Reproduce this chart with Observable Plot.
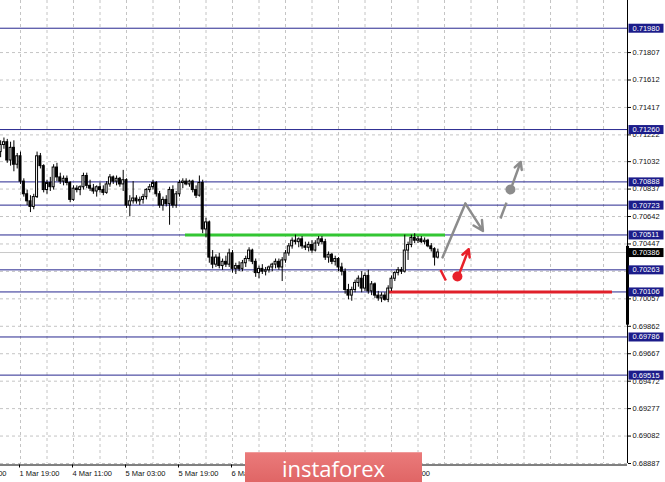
<!DOCTYPE html>
<html><head><meta charset="utf-8">
<script src="https://cdn.jsdelivr.net/npm/d3@7"></script>
<script src="https://cdn.jsdelivr.net/npm/@observablehq/plot@0.6"></script>
<style>
body{margin:0;background:#fff;}
#wrap{position:relative;width:665px;height:482px;overflow:hidden;background:#fff;}
#wrap svg{position:absolute;left:0;top:0;}
#banner{position:absolute;left:245px;top:452px;width:177px;height:34px;background:linear-gradient(#ea7a7a,#de6262);border-top:1px solid #f09a9a;color:#fff;font:22px "Open Sans",sans-serif;text-align:center;line-height:30px;z-index:2;}
</style></head><body><div id="wrap"><div id="banner">instaforex</div></div>
<script>
// ---- data (H1 candles) ----
const opens = [
0.7110,0.7115,0.7117,0.7104,0.7113,0.7101,0.7107,0.7089,0.7080,0.7075,
0.7071,0.7078,0.7107,0.7100,0.7083,0.7088,0.7085,0.7099,0.7092,0.7089,
0.7091,0.7088,0.7076,0.7084,0.7083,0.7085,0.7093,0.7086,0.7084,0.7082,
0.7085,0.7083,0.7081,0.7087,0.7092,0.7089,0.7091,0.7087,0.7090,0.7072,
0.7075,0.7077,0.7075,0.7076,0.7078,0.7083,0.7085,0.7088,0.7080,0.7072,
0.7076,0.7073,0.7083,0.7072,0.7080,0.7088,0.7089,0.7087,0.7089,0.7083,
0.7079,0.7088,0.7055,0.7060,0.7035,0.7030,0.7035,0.7029,0.7032,0.7030,
0.7038,0.7027,0.7029,0.7027,0.7031,0.7034,0.7040,0.7032,0.7024,0.7027,
0.7025,0.7026,0.7028,0.7030,0.7032,0.7028,0.7033,0.7038,0.7043,0.7047,
0.7046,0.7048,0.7043,0.7042,0.7044,0.7040,0.7045,0.7048,0.7046,0.7035,
0.7037,0.7032,0.7034,0.7028,0.7025,0.7012,0.7008,0.7012,0.7017,0.7020,
0.7013,0.7022,0.7011,0.7016,0.7008,0.7006,0.7008,0.7005,0.7013,0.7020,
0.7024,0.7026,0.7025,0.7040,0.7044,0.7049,0.7047,0.7048,0.7046,0.7047,
0.7043,0.7041,0.7035];
const highs = [
0.7118,0.7120,0.7119,0.7117,0.7118,0.7109,0.7110,0.7091,0.7083,0.7079,
0.7080,0.7110,0.7109,0.7101,0.7090,0.7092,0.7101,0.7102,0.7095,0.7093,
0.7093,0.7089,0.7086,0.7086,0.7086,0.7095,0.7095,0.7090,0.7087,0.7086,
0.7088,0.7086,0.7089,0.7094,0.7093,0.7093,0.7092,0.7097,0.7091,0.7079,
0.7089,0.7079,0.7078,0.7080,0.7084,0.7087,0.7090,0.7089,0.7082,0.7078,
0.7079,0.7085,0.7086,0.7082,0.7090,0.7091,0.7091,0.7090,0.7090,0.7086,
0.7093,0.7090,0.7063,0.7061,0.7040,0.7037,0.7038,0.7034,0.7036,0.7041,
0.7040,0.7031,0.7032,0.7033,0.7036,0.7042,0.7041,0.7034,0.7029,0.7030,
0.7028,0.7029,0.7031,0.7034,0.7034,0.7035,0.7040,0.7045,0.7049,0.7051,
0.7049,0.7050,0.7046,0.7046,0.7047,0.7047,0.7050,0.7050,0.7048,0.7039,
0.7038,0.7036,0.7035,0.7031,0.7027,0.7016,0.7014,0.7019,0.7022,0.7025,
0.7024,0.7026,0.7018,0.7017,0.7011,0.7010,0.7010,0.7015,0.7022,0.7025,
0.7028,0.7028,0.7051,0.7046,0.7051,0.7052,0.7050,0.7050,0.7049,0.7048,
0.7045,0.7042,0.7041];
const lows = [
0.7106,0.7112,0.7102,0.7100,0.7096,0.7098,0.7087,0.7078,0.7072,0.7067,
0.7069,0.7077,0.7098,0.7081,0.7080,0.7082,0.7083,0.7089,0.7087,0.7086,
0.7086,0.7074,0.7075,0.7081,0.7079,0.7083,0.7084,0.7082,0.7080,0.7078,
0.7081,0.7079,0.7080,0.7085,0.7087,0.7086,0.7085,0.7082,0.7070,0.7064,
0.7073,0.7073,0.7072,0.7073,0.7076,0.7081,0.7083,0.7078,0.7070,0.7068,
0.7071,0.7058,0.7070,0.7070,0.7078,0.7084,0.7086,0.7085,0.7081,0.7077,
0.7078,0.7052,0.7049,0.7031,0.7027,0.7028,0.7027,0.7026,0.7028,0.7028,
0.7024,0.7023,0.7025,0.7025,0.7028,0.7032,0.7030,0.7021,0.7020,0.7023,
0.7022,0.7024,0.7025,0.7027,0.7026,0.7018,0.7031,0.7036,0.7041,0.7044,
0.7042,0.7041,0.7040,0.7039,0.7038,0.7039,0.7043,0.7044,0.7033,0.7031,
0.7030,0.7029,0.7025,0.7022,0.7009,0.7005,0.7004,0.7010,0.7014,0.7010,
0.7011,0.7009,0.7008,0.7006,0.7004,0.7003,0.7004,0.7003,0.7011,0.7018,
0.7022,0.7023,0.7024,0.7033,0.7042,0.7045,0.7045,0.7045,0.7044,0.7042,
0.7039,0.7029,0.7034];
const closes = [
0.7115,0.7117,0.7104,0.7113,0.7101,0.7107,0.7089,0.7080,0.7075,0.7071,
0.7078,0.7107,0.7100,0.7083,0.7088,0.7085,0.7099,0.7092,0.7089,0.7091,
0.7088,0.7076,0.7084,0.7083,0.7085,0.7093,0.7086,0.7084,0.7082,0.7085,
0.7083,0.7081,0.7087,0.7092,0.7089,0.7091,0.7087,0.7090,0.7072,0.7075,
0.7077,0.7075,0.7076,0.7078,0.7083,0.7085,0.7088,0.7080,0.7072,0.7076,
0.7073,0.7083,0.7072,0.7080,0.7088,0.7089,0.7087,0.7089,0.7083,0.7079,
0.7088,0.7055,0.7060,0.7035,0.7030,0.7035,0.7029,0.7032,0.7030,0.7038,
0.7027,0.7029,0.7027,0.7031,0.7034,0.7040,0.7032,0.7024,0.7027,0.7025,
0.7026,0.7028,0.7030,0.7032,0.7028,0.7033,0.7038,0.7043,0.7047,0.7046,
0.7048,0.7043,0.7042,0.7044,0.7040,0.7045,0.7048,0.7046,0.7035,0.7037,
0.7032,0.7034,0.7028,0.7025,0.7012,0.7008,0.7012,0.7017,0.7020,0.7013,
0.7022,0.7011,0.7016,0.7008,0.7006,0.7008,0.7005,0.7013,0.7020,0.7024,
0.7026,0.7025,0.7040,0.7044,0.7049,0.7047,0.7048,0.7046,0.7047,0.7043,
0.7041,0.7035,0.70386];

const yTicks = [0.68887,0.69082,0.69277,0.69472,0.69667,0.69862,0.70057,0.70252,
                0.70447,0.70642,0.70837,0.71032,0.71222,0.71417,0.71612,0.71807];
const hiddenYTicks = [0.70252];           // fully covered by a level box in the reference
const levels = [0.71980,0.71260,0.70888,0.70723,0.70511,0.70263,0.70106,0.69786,0.69515];
const currentPrice = 0.70386;
const xTickIdx = [-10,6,22,38,54,70,86,102,118];
const xTickLabels = ["1 Mar 03:00","1 Mar 19:00","4 Mar 11:00","5 Mar 03:00","5 Mar 19:00",
                     "6 Mar 11:00","","","8 Mar 11:00"];   // two labels hidden under the logo
const gridIdx = d3.range(-2, 190, 8);
const xDomain = [-0.04, 189.24];
const yDomain = [0.68887, 0.72177];

// support / resistance segments
const greenLine = [{y:0.70511, x1:55.8, x2:134.3}];
const redLine = [{y:0.70106, x1:117.1, x2:184.7}];
// forecast arrows
const grayPath = [{x:133.4, y:0.70351},{x:140.3, y:0.70734}];
const grayArrows = [{x1:140.3, y1:0.70734, x2:145.6, y2:0.70540},
                    {x1:154.5, y1:0.70869, x2:157.0, y2:0.71030}];
const grayDash = [{x1:150.9, y1:0.70628, x2:152.7, y2:0.70741}];
const grayDots = [{x:153.9, y:0.70834}];
const redDash = [{x1:132.8, y1:0.70262, x2:134.4, y2:0.70187}];
const redArrows = [{x1:138.6, y1:0.70244, x2:141.3, y2:0.70410}];
const redDots = [{x:137.9, y:0.70216}];
const axisMark = [0.7043, 0.6987];

// ---- chart ----
const candles = opens.map((o,i)=>({i, o, h:highs[i], l:lows[i], c:closes[i]}));
const up = candles.filter(d=>d.c>=d.o), down = candles.filter(d=>d.c<d.o);
const labelMap = new Map(xTickIdx.map((d,i)=>[d, xTickLabels[i]]));
const boxes = levels.map(v=>({v, bg:"#1c1c8a"})).concat([{v:currentPrice, bg:"#000"}]);
const W = 665, H = 482, mR = 38, mB = 19, fs = 7.5;
const boxDx = 5;

const chart = Plot.plot({
  width: W, height: H, marginLeft: 0, marginRight: mR, marginTop: 0, marginBottom: mB,
  style: {fontFamily: "'Liberation Sans', Arial, sans-serif", fontSize: fs + "px", color: "#000", background: "#fff", overflow: "hidden"},
  x: {domain: xDomain, axis: null},
  y: {domain: yDomain, axis: null},
  marks: [
    Plot.ruleY(yTicks, {stroke: "#c4c4c4", strokeDasharray: "3,3"}),
    Plot.ruleX(gridIdx, {stroke: "#c4c4c4", strokeDasharray: "3,3"}),
    Plot.ruleY([currentPrice], {stroke: "#c8c8c8"}),
    Plot.ruleY(levels, {stroke: "#27278f"}),
    Plot.ruleY(greenLine, {y: "y", x1: "x1", x2: "x2", stroke: "#33c633", strokeWidth: 3}),
    Plot.ruleY(redLine, {y: "y", x1: "x1", x2: "x2", stroke: "#e0202a", strokeWidth: 3}),
    Plot.ruleX(candles, {x: "i", y1: "l", y2: "h", stroke: "#000"}),
    Plot.rect(up, {x1: d=>d.i-0.3, x2: d=>d.i+0.3, y1: "o", y2: "c", fill: "#fff", stroke: "#000"}),
    Plot.rect(down, {x1: d=>d.i-0.3, x2: d=>d.i+0.3, y1: "o", y2: "c", fill: "#000", stroke: "#000"}),
    Plot.line(grayPath, {x: "x", y: "y", stroke: "#8c8c8c", strokeWidth: 2.5}),
    Plot.arrow(grayArrows, {x1: "x1", y1: "y1", x2: "x2", y2: "y2", stroke: "#8c8c8c", strokeWidth: 2.5, headLength: 11, headAngle: 55}),
    Plot.link(grayDash, {x1: "x1", y1: "y1", x2: "x2", y2: "y2", stroke: "#8c8c8c", strokeWidth: 2.5}),
    Plot.dot(grayDots, {x: "x", y: "y", r: 5, fill: "#8c8c8c"}),
    Plot.link(redDash, {x1: "x1", y1: "y1", x2: "x2", y2: "y2", stroke: "#e8202a", strokeWidth: 2.5}),
    Plot.arrow(redArrows, {x1: "x1", y1: "y1", x2: "x2", y2: "y2", stroke: "#e8202a", strokeWidth: 2.5, headLength: 11, headAngle: 55}),
    Plot.dot(redDots, {x: "x", y: "y", r: 5, fill: "#e8202a"}),
    Plot.ruleX([xDomain[1]], {stroke: "#000"}),
    Plot.ruleX([xDomain[1]], {y1: axisMark[0], y2: axisMark[1], stroke: "#000", strokeWidth: 3}),
    Plot.ruleY([yDomain[0]], {stroke: "#808080", strokeWidth: 2, dy: 1.5}),
    Plot.axisY(yTicks, {anchor: "right", tickFormat: d=>hiddenYTicks.includes(d) ? "" : d.toFixed(5), tickSize: 3, tickPadding: 2, fontSize: fs, fill: "#111", label: null}),
    Plot.axisX(xTickIdx, {anchor: "bottom", tickFormat: d=>labelMap.get(d), textAnchor: "start", tickSize: 3, tickPadding: 3, dx: -1, fontSize: fs, fill: "#111", label: null, dy: 1.5}),
    Plot.text(boxes, {
      y: "v", text: d=>d.v.toFixed(5), frameAnchor: "right", textAnchor: "start", dx: boxDx,
      fill: "#fff", fontSize: fs,
      render(index, scales, values, dimensions, context, next) {
        const g = next(index, scales, values, dimensions, context);
        const x0 = dimensions.width - dimensions.marginRight + 1 - boxDx;
        const sel = d3.select(g);
        for (const i of Array.from(index).reverse()) {
          sel.insert("rect", ":first-child")
            .attr("x", x0).attr("y", values.y[i] - 4.5)
            .attr("width", 35).attr("height", 9)
            .attr("fill", boxes[i].bg);
        }
        return g;
      }
    })
  ]
});
document.getElementById("wrap").prepend(chart);
</script>
</body></html>
